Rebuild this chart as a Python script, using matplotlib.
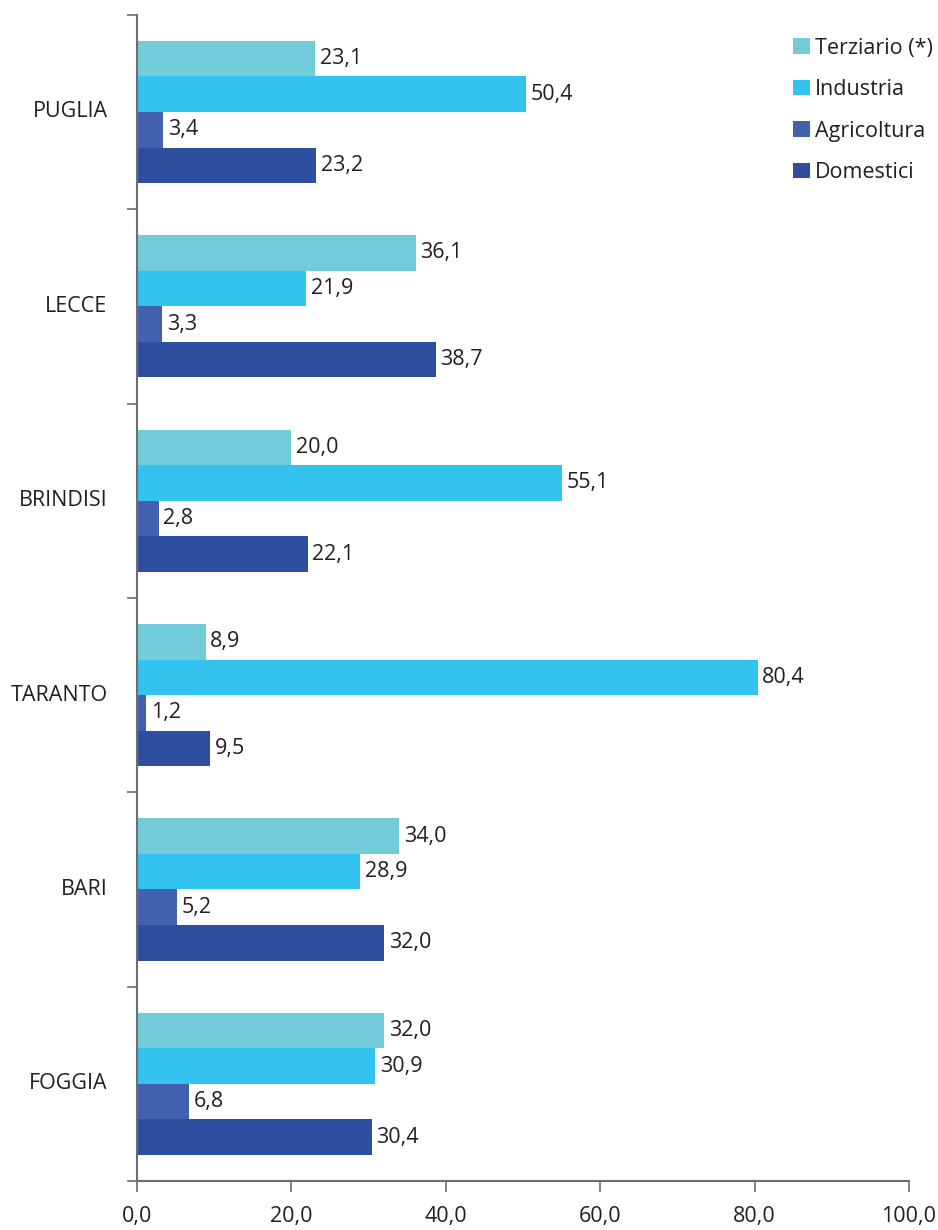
import matplotlib.pyplot as plt
import numpy as np

plt.rcParams['font.family'] = ['Open Sans', 'DejaVu Sans']

province = ["FOGGIA", "BARI", "TARANTO", "BRINDISI", "LECCE", "PUGLIA"]
settori = ["Terziario (*)", "Industria", "Agricoltura", "Domestici"]
colori = ["#72CBD9", "#33C3EE", "#4262AE", "#2E4E9F"]

terziario = [32.0, 34.0, 8.9, 20.0, 36.1, 23.1]
industria = [30.9, 28.9, 80.4, 55.1, 21.9, 50.4]
agricoltura = [6.8, 5.2, 1.2, 2.8, 3.3, 3.4]
domestici = [30.4, 32.0, 9.5, 22.1, 38.7, 23.2]
valori = [terziario, industria, agricoltura, domestici]

testo = "#231F20"
fs = 15.5
fig = plt.figure(figsize=(9.38, 12.3), dpi=100)
ax = fig.add_axes([0.146, 0.0398, 0.823, 0.9482])

y = np.arange(len(province))
h = 0.183
for i, (nome, col, v) in enumerate(zip(settori, colori, valori)):
    pos = y + (1.5 - i) * h
    ax.barh(pos, v, height=h, color=col, label=nome)
    for p, val in zip(pos, v):
        ax.text(val + 0.6, p, f"{val:.1f}".replace(".", ","), va="center",
                ha="left", fontsize=fs, color=testo)

ax.set_xlim(0, 100)
ax.set_ylim(-0.5, 5.5)
ax.set_xticks(np.arange(0, 101, 20))
ax.set_xticklabels([f"{t:.1f}".replace(".", ",") for t in np.arange(0, 101, 20)])
ax.set_yticks(np.arange(-0.5, 5.6, 1))
ax.set_yticklabels([])
for yy, nome in zip(y, province):
    ax.text(-3.8, yy, nome, ha="right", va="center", fontsize=fs, color=testo)

for s in ["top", "right"]:
    ax.spines[s].set_visible(False)
for s in ["left", "bottom"]:
    ax.spines[s].set_color("#6d6e71")
    ax.spines[s].set_linewidth(1.5)
ax.tick_params(axis="x", direction="out", length=8, width=1.2, color="#6d6e71",
               pad=10, labelsize=fs, labelcolor=testo)
ax.tick_params(axis="y", direction="out", length=7, width=1.2, color="#6d6e71")

leg = ax.legend(loc="upper right", bbox_to_anchor=(1.056, 0.997), frameon=False,
                fontsize=fs, handlelength=0.75, handleheight=0.75,
                handletextpad=0.25, labelspacing=0.95, labelcolor=testo)

fig.savefig("out.png", dpi=100)
